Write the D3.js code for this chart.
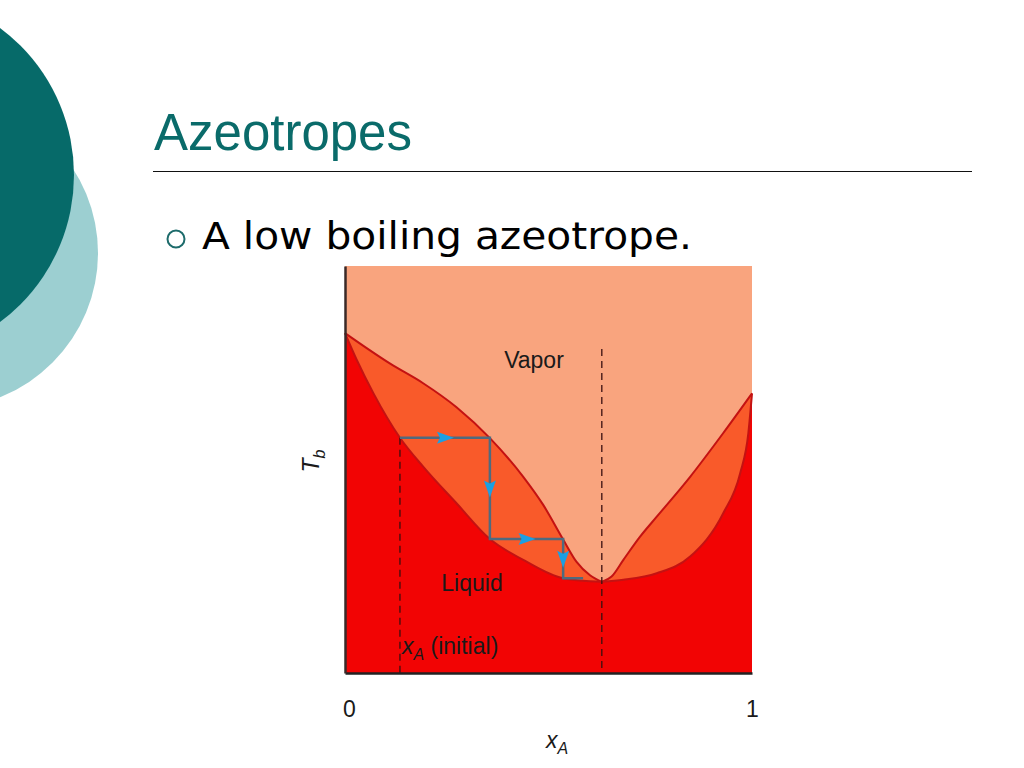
<!DOCTYPE html>
<html>
<head>
<meta charset="utf-8">
<title>Azeotropes</title>
<script src="https://d3js.org/d3.v7.min.js"></script>
<style>
  body { margin: 0; background: #fff; }
  svg { display: block; }
</style>
</head>
<body>
<div id="slide"></div>
<script>
// dew (vapor) curve, left and right branches: [xA, Tb]
var azeo = [0.631, 22.4];
var dewLeft = [[0, 83.5], [0.111, 76.0], [0.192, 71.2], [0.274, 65.3], [0.356, 57.7], [0.438, 48.2], [0.487, 41.3], [0.536, 32.8], [0.569, 27.3], [0.602, 24.0], azeo];
var dewRight = [azeo, [0.655, 23.7], [0.684, 27.8], [0.725, 33.5], [0.766, 38.4], [0.848, 48.2], [0.929, 58.9], [1, 68.7]];
// bubble (liquid) curve
var bubbleLeft = [[0, 83.5], [0.029, 76.9], [0.070, 68.7], [0.135, 57.8], [0.192, 50.7], [0.274, 41.7], [0.356, 32.9], [0.438, 27.8], [0.536, 23.3], azeo];
var bubbleRight = [azeo, [0.684, 22.9], [0.766, 24.5], [0.848, 28.6], [0.929, 39.2], [0.971, 49.1], [0.991, 58.9], [1, 68.7]];
// distillation steps
var steps = [[0.135, 57.8], [0.356, 57.8], [0.356, 32.9], [0.536, 32.9], [0.536, 23.3], [0.585, 23.3]];
var xInitial = 0.135, tAzeoTop = 79.6;
var xTicks = [0, 1];

var W = 1024, H = 768;
var svg = d3.select("#slide").append("svg").attr("width", W).attr("height", H);

// slide decoration
svg.append("circle").attr("cx", -57).attr("cy", 253).attr("r", 155).attr("fill", "#9ccfd1");
svg.append("circle").attr("cx", -109).attr("cy", 175).attr("r", 183).attr("fill", "#066a69");

svg.append("text").attr("x", 154).attr("y", 150)
  .style("font-family", "Liberation Sans, Arial, sans-serif").style("font-size", "51px")
  .attr("fill", "#0a6b6a").text("Azeotropes");
svg.append("line").attr("x1", 153).attr("x2", 972).attr("y1", 171.5).attr("y2", 171.5)
  .attr("stroke", "#111").attr("stroke-width", 1);

svg.append("circle").attr("cx", 176).attr("cy", 239).attr("r", 8.5)
  .attr("fill", "none").attr("stroke", "#1d6b6b").attr("stroke-width", 2);
svg.append("text").attr("x", 202).attr("y", 249)
  .style("font-family", "DejaVu Sans, Verdana, sans-serif").style("font-size", "37px")
  .attr("fill", "#000").attr("textLength", 490).attr("lengthAdjust", "spacingAndGlyphs")
  .text("A low boiling azeotrope.");

// chart
var x = d3.scaleLinear().domain([0, 1]).range([345, 752]);
var y = d3.scaleLinear().domain([0, 100]).range([673, 266]);

var g = svg.append("g");
g.append("rect").attr("x", x(0)).attr("y", y(100))
  .attr("width", x(1) - x(0)).attr("height", y(0) - y(100)).attr("fill", "#f9a47e");

var line = d3.line().x(function(d) { return x(d[0]); }).y(function(d) { return y(d[1]); })
  .curve(d3.curveMonotoneX);

// join two branches into one path, optionally closed down to the x axis
function curvePath(left, right, closed) {
  var d = line(left) + line(right).replace(/^M/, "L");
  if (closed) d += "L" + x(1) + "," + y(0) + "L" + x(0) + "," + y(0) + "Z";
  return d;
}

g.append("path").attr("d", curvePath(dewLeft, dewRight, true)).attr("fill", "#f95a2a");
g.append("path").attr("d", curvePath(bubbleLeft, bubbleRight, true)).attr("fill", "#f20404");
g.append("path").attr("d", curvePath(dewLeft, dewRight, false)).attr("fill", "none").attr("stroke", "#c41212").attr("stroke-width", 2);
g.append("path").attr("d", curvePath(bubbleLeft, bubbleRight, false)).attr("fill", "none").attr("stroke", "#c41212").attr("stroke-width", 2);

// dashed guides
g.append("line").attr("x1", x(xInitial)).attr("x2", x(xInitial)).attr("y1", y(steps[0][1])).attr("y2", y(0))
  .attr("stroke", "#3a1010").attr("stroke-width", 1.3).attr("stroke-dasharray", "7,5");
g.append("line").attr("x1", x(azeo[0])).attr("x2", x(azeo[0])).attr("y1", y(tAzeoTop)).attr("y2", y(0))
  .attr("stroke", "#3a1010").attr("stroke-width", 1.3).attr("stroke-dasharray", "7,5");

// steps
g.append("path").datum(steps)
  .attr("d", d3.line().x(function(d) { return x(d[0]); }).y(function(d) { return y(d[1]); }))
  .attr("fill", "none").attr("stroke", "#4f6a7e").attr("stroke-width", 2.5);

for (var i = 0; i < 4; i++) {
  var a = steps[i], b = steps[i + 1];
  var mx = (x(a[0]) + x(b[0])) / 2, my = (y(a[1]) + y(b[1])) / 2;
  var ang = Math.atan2(y(b[1]) - y(a[1]), x(b[0]) - x(a[0])) * 180 / Math.PI;
  g.append("path").attr("d", "M9,0 L-8,-6 L-5,0 L-8,6 Z")
    .attr("transform", "translate(" + mx + "," + my + ") rotate(" + ang + ")")
    .attr("fill", "#1c9fe2");
}

// axes
g.append("g").attr("transform", "translate(0," + y(0) + ")")
  .call(d3.axisBottom(x).tickValues(xTicks).tickSize(0).tickPadding(28).tickFormat(d3.format("d")))
  .call(function(s) {
    s.select(".domain").attr("stroke", "#222").attr("stroke-width", 2.5);
    s.selectAll("text").attr("dx", function(d) { return d === 0 ? 4 : 0; })
      .style("font-family", "Liberation Sans, Arial, sans-serif").style("font-size", "23px").attr("fill", "#1a1a1a");
  });
g.append("g").attr("transform", "translate(" + x(0) + ",0)")
  .call(d3.axisLeft(y).tickValues([]).tickSize(0))
  .call(function(s) { s.select(".domain").attr("stroke", "#3a2a28").attr("stroke-width", 2.5); });

function label(tx, ty, anchor) {
  return g.append("text").attr("x", tx).attr("y", ty).attr("text-anchor", anchor || "start")
    .attr("fill", "#1a1a1a")
    .style("font-family", "Liberation Sans, Arial, sans-serif").style("font-size", "23px");
}
label(534, 368, "middle").text("Vapor");
label(472, 591, "middle").text("Liquid");
var ini = label(402, 654);
ini.append("tspan").style("font-style", "italic").text("x");
ini.append("tspan").style("font-style", "italic").style("font-size", "16px").attr("dy", 6).text("A");
ini.append("tspan").attr("dy", -6).text(" (initial)");

var xl = label(557, 748, "middle");
xl.append("tspan").style("font-style", "italic").text("x");
xl.append("tspan").style("font-style", "italic").style("font-size", "16px").attr("dy", 6).text("A");

var tl = label(0, 0, "middle").attr("transform", "translate(319,461) rotate(-90)");
tl.append("tspan").style("font-style", "italic").text("T");
tl.append("tspan").style("font-style", "italic").style("font-size", "16px").attr("dy", 6).text("b");
</script>
</body>
</html>
